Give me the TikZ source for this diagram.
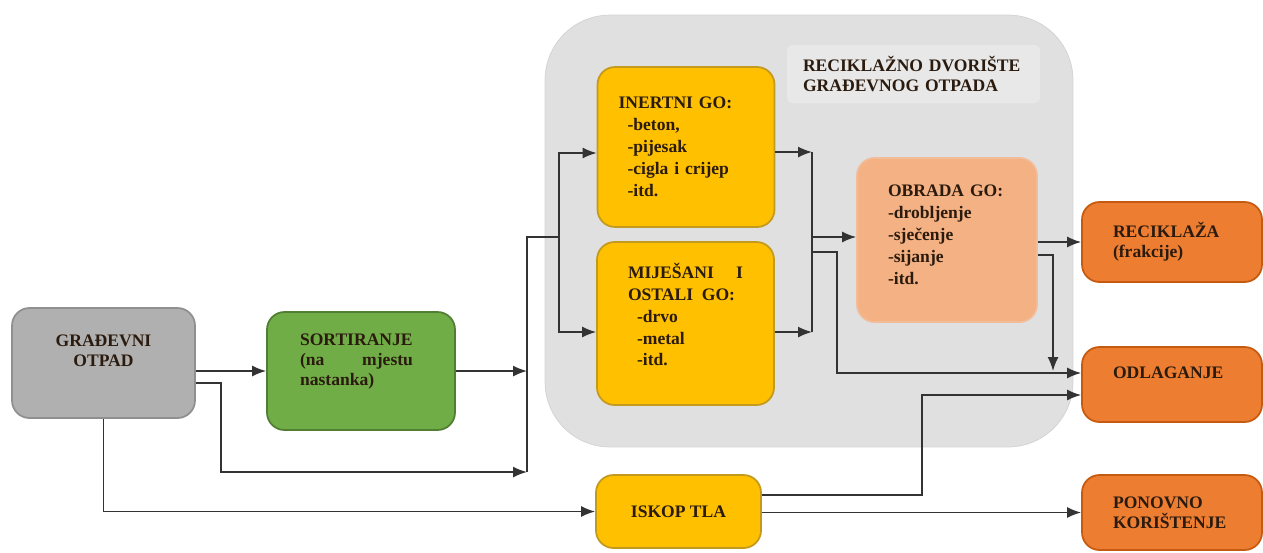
\documentclass[tikz,border=0pt]{standalone}
\usepackage{fontspec}
\setmainfont{Liberation Serif}
\usetikzlibrary{arrows.meta}

\definecolor{yardfill}{HTML}{E0E0E0}
\definecolor{yardedge}{HTML}{D2D2D2}
\definecolor{labelfill}{HTML}{E8E8E8}
\definecolor{grayfill}{HTML}{B0B0B0}
\definecolor{grayedge}{HTML}{909090}
\definecolor{greenfill}{HTML}{70AD47}
\definecolor{greenedge}{HTML}{507E32}
\definecolor{goldfill}{HTML}{FFC000}
\definecolor{goldedge}{HTML}{C39A1E}
\definecolor{salmonfill}{HTML}{F4B183}
\definecolor{salmonedge}{HTML}{F2BC98}
\definecolor{orangefill}{HTML}{ED7D31}
\definecolor{orangeedge}{HTML}{C55A11}
\definecolor{txtcol}{HTML}{2B1B0E}
\definecolor{linecol}{HTML}{333333}

\tikzset{
  box/.style={rectangle, rounded corners=0.35cm, line width=1pt, inner ysep=0pt,
    text=txtcol, font=\bfseries\fontsize{10}{11.4}\selectfont},
  listbox/.style={box, font=\bfseries\fontsize{10}{12.5}\selectfont},
  conn/.style={line width=0.9pt, draw=linecol},
  arr/.style={conn, -{Latex[length=2.8mm,width=2.2mm]}},
}

\begin{document}
\begin{tikzpicture}[x=0.02cm, y=-0.02cm]
    \useasboundingbox (0,0) rectangle (1263,552);

    % recycling yard
    \node[fill=yardfill, draw=yardedge, rounded corners=1.3cm, minimum width=10.56cm, minimum height=8.64cm] (dvor) at (809,231) {};
    \node[box, fill=labelfill, rounded corners=0.1cm, minimum height=1.16cm, inner xsep=0.32cm, text width=4.42cm, align=left] (dvorlbl) at (913.5,74) {RECIKLAŽNO DVORIŠTE\\GRAĐEVNOG OTPADA};

    \node[box, fill=grayfill, draw=grayedge, minimum width=3.66cm, minimum height=2.2cm, text width=3.26cm, align=center, text depth=0.88cm] (grad) at (103.5,363) {GRAĐEVNI\\OTPAD};
    \node[box, fill=greenfill, draw=greenedge, minimum height=2.36cm, inner xsep=0.66cm, text width=2.44cm, align=left, text depth=1.25cm] (sort) at (361,371) {SORTIRANJE\\\makebox[2.26cm][l]{(na\hfill mjestu}\\nastanka)};

    \node[listbox, fill=goldfill, draw=goldedge, minimum height=3.2cm, inner xsep=0.42cm, text width=2.7cm, align=left] (inert) at (686,147) {INERTNI GO:\\\hspace*{0.18cm}-beton,\\\hspace*{0.18cm}-pijesak\\\hspace*{0.18cm}-cigla i crijep\\\hspace*{0.18cm}-itd.};
    \node[listbox, fill=goldfill, draw=goldedge, minimum height=3.26cm, inner xsep=0.62cm, text width=2.3cm, align=left, text depth=2.12cm] (mjes) at (685.5,323.5) {MIJEŠANI\hfill I\\OSTALI\hspace{0.5em}GO:\\\hspace*{0.18cm}-drvo\\\hspace*{0.18cm}-metal\\\hspace*{0.18cm}-itd.};
    \node[listbox, fill=salmonfill, draw=salmonedge, minimum height=3.28cm, inner xsep=0.62cm, text width=2.36cm, align=left, text depth=1.96cm] (obrada) at (947,240) {OBRADA GO:\\-drobljenje\\-sječenje\\-sijanje\\-itd.};

    \node[box, fill=orangefill, draw=orangeedge, minimum height=1.6cm, inner xsep=0.62cm, text width=2.36cm, align=left] (recik) at (1172,242) {RECIKLAŽA\\(frakcije)};
    \node[box, fill=orangefill, draw=orangeedge, minimum height=1.5cm, inner xsep=0.62cm, text width=2.36cm, align=left, text depth=0.47cm] (odlag) at (1172,384.5) {ODLAGANJE};
    \node[box, fill=orangefill, draw=orangeedge, minimum height=1.5cm, inner xsep=0.62cm, text width=2.36cm, align=left] (ponov) at (1172,512.5) {PONOVNO\\KORIŠTENJE};

    \node[box, fill=goldfill, draw=goldedge, minimum width=3.3cm, minimum height=1.46cm] (iskop) at (678.5,511.5) {ISKOP TLA};

    \coordinate (busbot) at (527,472);
    \coordinate (bustop) at (527,237);
    \coordinate (split) at (559,237);
    \coordinate (min) at (812,152);
    \coordinate (mmj) at (812,332);
    \coordinate (merge) at (812,237);
    \coordinate (tap) at (812,252);
    \coordinate (dump) at (837,373);
    \coordinate (drop) at (1053,371);
    \coordinate (riser) at (922,395);

    \draw[arr] (grad.east |- sort.west) -- (sort.west);
    \draw[arr] ([yshift=-0.4cm]grad.east) -| ([xshift=0.5cm]grad.east |- busbot) -- (busbot);
    \draw[arr] (sort.east) -- (sort.east -| busbot);
    \draw[conn] (busbot) -- (bustop) -- (split);
    \draw[arr] (split) |- ([yshift=-0.12cm]inert.west);
    \draw[arr] (split) |- ([yshift=-0.17cm]mjes.west);

    \draw[arr] (inert.east |- min) -- (min);
    \draw[arr] (mjes.east |- mmj) -- (mmj);
    \draw[conn] (min) -- (mmj);
    \draw[arr] (merge) -- (merge -| obrada.west);
    \draw[arr] (tap) -| (dump) -- (dump -| odlag.west);

    \draw[arr] (obrada.east |- recik.west) -- (recik.west);
    \draw[arr] ([yshift=-0.3cm]obrada.east) -| (drop);

    \draw[arr] (grad.south) |- (iskop.west);
    \draw[arr] ([yshift=0.33cm]iskop.east) -| (riser) -- (riser -| odlag.west);
    \draw[arr] (iskop.east |- ponov.west) -- (ponov.west);
\end{tikzpicture}
\end{document}
